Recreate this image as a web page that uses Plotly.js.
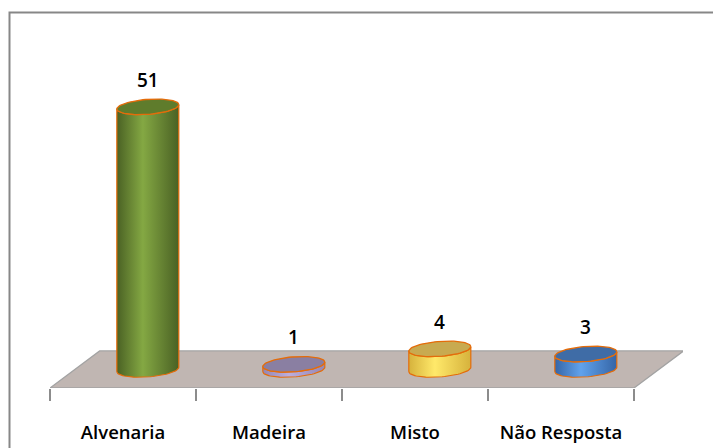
<!DOCTYPE html>
<html>
<head>
<meta charset="utf-8">
<script src="https://cdn.plot.ly/plotly-3.0.1.min.js"></script>
<style>html,body{margin:0;padding:0;background:#fff;}#chart{width:713px;height:448px;}</style>
</head>
<body>
<div id="chart"></div>
<script>
// ---- data ----
const categories = ['Alvenaria', 'Madeira', 'Misto', 'Não Resposta'];
const values = [51, 1, 4, 3];
const topColors = ['#5F7C2C', '#8A7FA2', '#C8AA50', '#3F6CA6'];
const sideEdgeColors = ['#4A6124', '#9486B4', '#D6B23C', '#3565A6'];
const sideLightColors = ['#84A843', '#BCAEDD', '#FFE96A', '#60A2EC'];

// ---- layout geometry ----
const W = 713, H = 448;
const M = {l: 50, r: 30, t: 60, b: 60};
const depthX = 0.17;     // half-depth horizontal offset (category units)
const depthY = 3.6;      // half-depth vertical offset (value units)
const xRange = [-0.5, -0.5 + (W - M.l - M.r) / 146];
const yRange = [-depthY, -depthY + (H - M.t - M.b) / 5.15];
const pxPerX = (W - M.l - M.r) / (xRange[1] - xRange[0]);
const pxPerY = (H - M.t - M.b) / (yRange[1] - yRange[0]);
const ra = 31 / pxPerX;        // ellipse half-width
const rb = 7.5 / pxPerY;       // ellipse half-height
const tilt = 2.2 / pxPerY;     // ellipse tilt

function arc(cx, cy, t0, t1, n) {
  const xs = [], ys = [];
  for (let i = 0; i <= n; i++) {
    const t = t0 + (t1 - t0) * i / n;
    xs.push(cx + ra * Math.cos(t));
    ys.push(cy + rb * Math.sin(t) + tilt * Math.cos(t));
  }
  return {xs, ys};
}

const traces = [];
// floor
const n = categories.length;
traces.push({
  x: [-0.5, n - 0.5, n - 0.5 + 2 * depthX, -0.5 + 2 * depthX, -0.5],
  y: [-depthY, -depthY, depthY, depthY, -depthY],
  mode: 'lines', fill: 'toself', fillcolor: '#C0B6B2',
  line: {color: '#A3A3A3', width: 1.3}, hoverinfo: 'skip', showlegend: false
});

categories.forEach((c, i) => {
  const cx = i + depthX;
  const v = values[i];
  const bot = arc(cx, 0, Math.PI, 2 * Math.PI, 40);
  const top = arc(cx, v, 2 * Math.PI, Math.PI, 40);
  traces.push({
    x: bot.xs.concat(top.xs, [bot.xs[0]]),
    y: bot.ys.concat(top.ys, [bot.ys[0]]),
    mode: 'lines', fill: 'toself',
    fillgradient: {type: 'horizontal', colorscale: [[0, sideEdgeColors[i]], [0.42, sideLightColors[i]], [1, sideEdgeColors[i]]]},
    line: {color: '#E46C0A', width: 1.2}, hoverinfo: 'skip', showlegend: false
  });
  const cap = arc(cx, v, 0, 2 * Math.PI, 80);
  traces.push({
    x: cap.xs, y: cap.ys, mode: 'lines', fill: 'toself', fillcolor: topColors[i],
    line: {color: '#E46C0A', width: 1.3}, hoverinfo: 'skip', showlegend: false
  });
});

const labelFont = {family: 'Open Sans, Liberation Sans, sans-serif', size: 18.5, weight: 600, color: '#000'};

const annotations = categories.map((c, i) => ({
  x: i + depthX, y: values[i], xref: 'x', yref: 'y', text: String(values[i]),
  showarrow: false, yshift: 27, yanchor: 'middle',
  font: {family: 'Open Sans, Liberation Sans, sans-serif', size: 19, weight: 600, color: '#000'}
}));

const layout = {
  width: W, height: H, margin: M,
  paper_bgcolor: '#fff', plot_bgcolor: '#fff',
  showlegend: false,
  xaxis: {
    range: xRange, fixedrange: true, showgrid: false, zeroline: false, showline: false,
    tickmode: 'array', tickvals: categories.map((c, i) => i), ticktext: categories,
    ticks: '', ticklabelstandoff: 31,
    tickfont: labelFont,
    minor: {tick0: -0.5, dtick: 1, ticks: 'outside', ticklen: 12, tickcolor: '#8C8C8C', tickwidth: 1.3, showgrid: false}
  },
  yaxis: {range: yRange, fixedrange: true, visible: false},
  annotations: annotations,
  shapes: [{
    type: 'rect', xref: 'paper', yref: 'paper',
    x0: (9.5 - M.l) / (W - M.l - M.r), x1: 1.2,
    y0: -0.5, y1: (H - M.b - 12.5) / (H - M.t - M.b),
    line: {color: '#878787', width: 2}, layer: 'below'
  }]
};

Plotly.newPlot('chart', traces, layout, {staticPlot: true, displayModeBar: false});
</script>
</body>
</html>
